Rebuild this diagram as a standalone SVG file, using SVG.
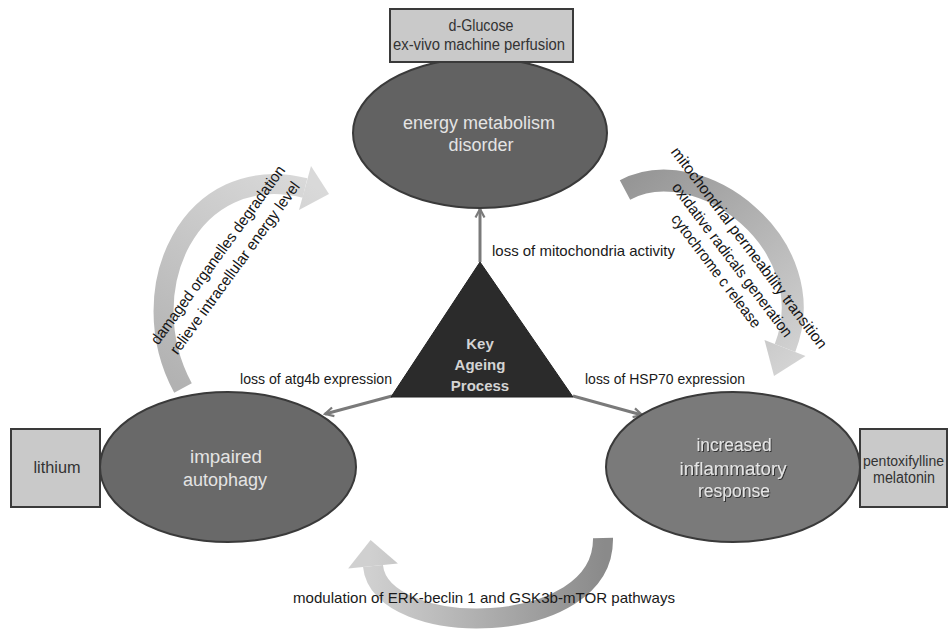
<svg xmlns="http://www.w3.org/2000/svg" width="949" height="632" viewBox="0 0 949 632">
<style>
.box{fill:#c9c9c9;stroke:#3a3a3a;stroke-width:2}
.ell{stroke:#3a3a3a;stroke-width:2}
.t{font-family:"Liberation Sans",Arial,sans-serif;text-anchor:middle}
.bt{font-size:16px;fill:#333}
.et{font-size:18px;fill:#e4e4e4}
.lbl{font-size:15px;fill:#1a1a1a}
.rot{font-size:15.5px;fill:#151515}
.conn{stroke:#7a7a7a;stroke-width:3;fill:none}
</style>
<defs>
<marker id="ah" viewBox="0 0 12 12" refX="10" refY="6" markerWidth="12" markerHeight="12" markerUnits="userSpaceOnUse" orient="auto">
<path d="M1.5,1.5 L10,6 L1.5,10.5" fill="none" stroke="#7a7a7a" stroke-width="2.2"/>
</marker>
<linearGradient id="gL" gradientUnits="userSpaceOnUse" x1="183" y1="388" x2="320" y2="190">
<stop offset="0" stop-color="#b2b2b2"/><stop offset="1" stop-color="#d9d9d9"/>
</linearGradient>
<linearGradient id="gR" gradientUnits="userSpaceOnUse" x1="625" y1="185" x2="785" y2="370">
<stop offset="0" stop-color="#969696"/><stop offset="1" stop-color="#d3d3d3"/>
</linearGradient>
<linearGradient id="gB" gradientUnits="userSpaceOnUse" x1="605" y1="0" x2="370" y2="0">
<stop offset="0" stop-color="#8a8a8a"/><stop offset="1" stop-color="#d0d0d0"/>
</linearGradient>
<filter id="sh" x="-10%" y="-30%" width="120%" height="160%">
<feDropShadow dx="1" dy="1" stdDeviation="0.7" flood-color="#2a2a2a" flood-opacity="0.9"/>
</filter>
</defs>
<rect width="949" height="632" fill="#ffffff"/>

<g id="connectors">
<g id="arc-left">
<path d="M183,388 C130,290 190,160 305,188" fill="none" stroke="url(#gL)" stroke-width="20"/>
<polygon points="311,166 329,194 299,210" fill="url(#gL)"/>
</g>
<g id="arc-right">
<path d="M625,190 C700,150 825,245 785,348" fill="none" stroke="url(#gR)" stroke-width="22"/>
<polygon points="805.5,356 774,376 764.5,340" fill="url(#gR)"/>
</g>
<g id="arc-bottom">
<path d="M603,538 C605,640 380,640 373,566" fill="none" stroke="url(#gB)" stroke-width="20"/>
<polygon points="397.9,563.6 370.6,540 348.1,568.4" fill="url(#gB)"/>
</g>
<path class="conn" d="M480,262 L480,209" marker-end="url(#ah)"/>
<path class="conn" d="M392,396 L325,414" marker-end="url(#ah)"/>
<path class="conn" d="M573,396 L642,415" marker-end="url(#ah)"/>
<g class="t lbl">
<text x="583.5" y="256" textLength="183" lengthAdjust="spacingAndGlyphs">loss of mitochondria activity</text>
<text x="316" y="384" textLength="152" lengthAdjust="spacingAndGlyphs">loss of atg4b expression</text>
<text x="665" y="384" textLength="160" lengthAdjust="spacingAndGlyphs">loss of HSP70 expression</text>
<text x="484" y="603" textLength="382" lengthAdjust="spacingAndGlyphs">modulation of ERK-beclin 1 and GSK3b-mTOR pathways</text>
</g>
<g class="t rot">
<text transform="translate(222,258) rotate(-54)" textLength="217" lengthAdjust="spacingAndGlyphs">damaged organelles degradation</text>
<text transform="translate(239,271) rotate(-54)" textLength="209" lengthAdjust="spacingAndGlyphs">relieve intracellular energy level</text>
<text transform="translate(745,251) rotate(53)" textLength="248" lengthAdjust="spacingAndGlyphs">mitochondrial permeability transition</text>
<text transform="translate(728,263) rotate(53)" textLength="189" lengthAdjust="spacingAndGlyphs">oxidative radicals generation</text>
<text transform="translate(712,274) rotate(53)" textLength="138" lengthAdjust="spacingAndGlyphs">cytochrome c release</text>
</g>
</g>

<g id="node-energy">
<ellipse class="ell" cx="480" cy="133" rx="127" ry="75" fill="#626262"/>
<g class="t et">
<text x="479" y="129" textLength="152" lengthAdjust="spacingAndGlyphs">energy metabolism</text>
<text x="481" y="151" textLength="65" lengthAdjust="spacingAndGlyphs">disorder</text>
</g>
</g>

<g id="node-glucose">
<rect class="box" x="390" y="9" width="183" height="53"/>
<g class="t bt">
<text x="481" y="31" textLength="65" lengthAdjust="spacingAndGlyphs">d-Glucose</text>
<text x="479" y="50" textLength="172" lengthAdjust="spacingAndGlyphs">ex-vivo machine perfusion</text>
</g>
</g>

<g id="node-autophagy">
<ellipse class="ell" cx="228" cy="467" rx="128" ry="75" fill="#696969"/>
<g class="t et">
<text x="226" y="463" textLength="72" lengthAdjust="spacingAndGlyphs">impaired</text>
<text x="225" y="486" textLength="84" lengthAdjust="spacingAndGlyphs">autophagy</text>
</g>
</g>

<g id="node-lithium">
<rect class="box" x="11" y="429" width="89" height="78"/>
<text class="t bt" x="57" y="473" textLength="47" lengthAdjust="spacingAndGlyphs">lithium</text>
</g>

<g id="node-inflammatory">
<ellipse class="ell" cx="733" cy="467" rx="127" ry="75" fill="#7a7a7a"/>
<g class="t et" filter="url(#sh)">
<text x="734" y="451" textLength="75" lengthAdjust="spacingAndGlyphs">increased</text>
<text x="733" y="475" textLength="107" lengthAdjust="spacingAndGlyphs">inflammatory</text>
<text x="734" y="497" textLength="72" lengthAdjust="spacingAndGlyphs">response</text>
</g>
</g>

<g id="node-pentox">
<rect class="box" x="860" y="429" width="87" height="78"/>
<g class="t bt">
<text x="903.5" y="466" style="font-size:14px">pentoxifylline</text>
<text x="904" y="483" textLength="62" lengthAdjust="spacingAndGlyphs">melatonin</text>
</g>
</g>

<g id="node-key">
<polygon points="480,262 391,397 573,397" fill="#2b2b2b" stroke="#222" stroke-width="1"/>
<g class="t" style="font-size:15px;font-weight:bold;fill:#d4d4d4">
<text x="480" y="349">Key</text>
<text x="480" y="370">Ageing</text>
<text x="480" y="391">Process</text>
</g>
</g>
</svg>
